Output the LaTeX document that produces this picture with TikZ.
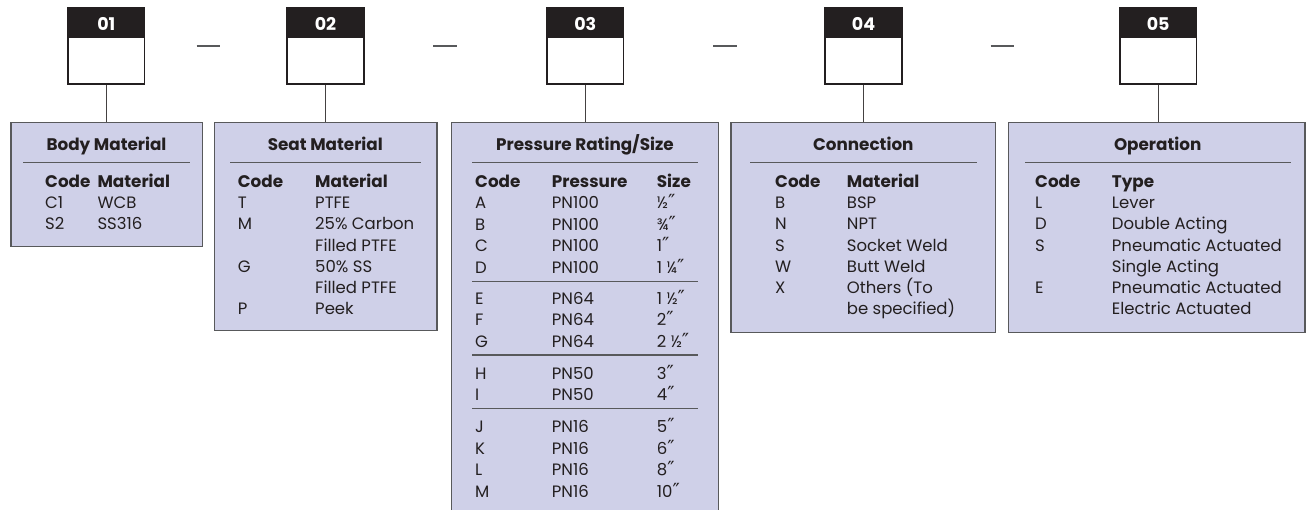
\documentclass[tikz,border=0pt]{standalone}
\usepackage{fontspec}
\setmainfont{Poppins}
\newfontfamily\dvfont{DejaVu Sans}
\newcommand{\dpr}{{\dvfont\fontsize{19.5}{20}\selectfont ″}}
\definecolor{panelfill}{HTML}{CFD0E8}
\definecolor{ink}{HTML}{231F20}
\definecolor{edgegray}{HTML}{58595B}
\tikzset{
 panel/.style={draw=edgegray, line width=1.4pt, fill=panelfill, inner sep=0pt, anchor=north},
 codebox/.style={draw=ink, line width=1.1pt, fill=white, minimum width=76pt, minimum height=75.7pt, inner sep=0pt},
 hdrtxt/.style={text=white, font=\fontsize{17.5}{20}\selectfont\bfseries, inner sep=0pt},
 txt/.style={anchor=base west, inner sep=0pt, text=ink, font=\fontsize{16.5}{19}\selectfont},
 btxt/.style={txt, font=\fontsize{16.8}{19}\selectfont\bfseries},
 ttl/.style={anchor=base, inner sep=0pt, text=ink, font=\fontsize{16.8}{19}\selectfont\bfseries},
 link/.style={draw=ink!85, line width=1pt},
 sep/.style={draw=edgegray, line width=1.3pt},
 dashmark/.style={draw=edgegray, line width=1.2pt},
}
\begin{document}
\begin{tikzpicture}[x=1pt,y=-1pt]
\useasboundingbox (0,0) rectangle (1306,510);
\begin{scope}
\clip (0,0) rectangle (1306,510);
% panels
\node[panel, minimum width=191.3pt, minimum height=124pt] (p1) at (106.65,121.7) {};
\node[panel, minimum width=222.7pt, minimum height=208.3pt] (p2) at (325.65,121.7) {};
\node[panel, minimum width=266.6pt, minimum height=395pt] (p3) at (585,121.7) {};
\node[panel, minimum width=264.7pt, minimum height=210pt] (p4) at (863.35,121.7) {};
\node[panel, minimum width=296.7pt, minimum height=210pt] (p5) at (1156.65,121.7) {};
% code boxes
\foreach \n/\cx in {1/106.3, 2/325.5, 3/585.3, 4/863.5, 5/1158.2} {
  \node[codebox] (c\n) at (\cx,46.15) {};
  \fill[ink] (c\n.north west) rectangle ([yshift=-30.7pt]c\n.north east);
  \draw[ink, line width=1.1pt] (c\n.north west) rectangle (c\n.south east);
  \node[hdrtxt] (h\n) at (\cx,24.2) {0\n};
  \draw[link] (c\n.south) -- (c\n.south |- p\n.north);
}
% dashes between code boxes
\draw[dashmark] (196.7,46) -- (220,46);
\draw[dashmark] (433.3,46) -- (456.7,46);
\draw[dashmark] (713.3,46) -- (736.7,46);
\draw[dashmark] (990.7,46) -- (1014,46);
% titles
\node[ttl] (t1) at (106.5,150.2) {Body Material};
\node[ttl] (t2) at (325.3,150.2) {Seat Material};
\node[ttl] (t3) at (585,150.2) {Pressure Rating/Size};
\node[ttl] (t4) at (863.3,150.2) {Connection};
\node[ttl] (t5) at (1157.7,150.2) {Operation};
\draw[sep] (23.3,162.7) -- (190,162.7);
\draw[sep] (230,162.7) -- (421,162.7);
\draw[sep] (472.3,162.7) -- (698.3,162.7);
\draw[sep] (750,162.7) -- (976.7,162.7);
\draw[sep] (1025,162.7) -- (1291,162.7);
% column headers
\node[btxt] (b1a) at (45,187.6) {Code};
\node[btxt] (b1b) at (97.3,187.6) {Material};
\node[btxt] (b2a) at (237.7,187.6) {Code};
\node[btxt] (b2b) at (315,187.6) {Material};
\node[btxt] (b3a) at (475,187.6) {Code};
\node[btxt] (b3b) at (551.7,187.6) {Pressure};
\node[btxt] (b3c) at (656.7,187.6) {Size};
\node[btxt] (b4a) at (775,187.6) {Code};
\node[btxt] (b4b) at (846.7,187.6) {Material};
\node[btxt] (b5a) at (1035,187.6) {Code};
\node[btxt] (b5b) at (1111.7,187.6) {Type};
% body material
\foreach \a/\b [count=\i] in {C1/WCB, S2/SS316} {
  \node[txt] (r1a\i) at (45,{202.9+21.2*(\i-1)+5.8}) {\a};
  \node[txt] (r1b\i) at (97.3,{202.9+21.2*(\i-1)+5.8}) {\b};
}
% seat material
\foreach \a/\b [count=\i] in {T/PTFE, M/25\% Carbon, /Filled PTFE, G/50\% SS, /Filled PTFE, P/Peek} {
  \node[txt] (r2a\i) at (237.7,{202.9+21.2*(\i-1)+5.8}) {\a};
  \node[txt] (r2b\i) at (315,{202.9+21.2*(\i-1)+5.8}) {\b};
}
% pressure rating / size
\foreach \yy/\a/\b/\c [count=\i] in {202.7/A/PN100/{½\dpr}, 224.6/B/PN100/{¾\dpr}, 246/C/PN100/{1\dpr}, 267.3/D/PN100/{1 ¼\dpr},
  298.3/E/PN64/{1 ½\dpr}, 320/F/PN64/{2\dpr}, 341.7/G/PN64/{2 ½\dpr},
  373.3/H/PN50/{3\dpr}, 395/I/PN50/{4\dpr},
  426.7/J/PN16/{5\dpr}, 448.3/K/PN16/{6\dpr}, 470/L/PN16/{8\dpr}, 491.3/M/PN16/{10\dpr}} {
  \node[txt] (r3a\i) at (475,{\yy+5.8}) {\a};
  \node[txt] (r3b\i) at (551.7,{\yy+5.8}) {\b};
  \node[txt] (r3c\i) at (656.7,{\yy+5.8}) {\c};
}
\draw[sep] (472.3,281.7) -- (698.3,281.7);
\draw[sep] (472.3,355) -- (698.3,355);
\draw[sep] (472.3,408.3) -- (698.3,408.3);
% connection
\foreach \a/\b [count=\i] in {B/BSP, N/NPT, S/Socket Weld, W/Butt Weld, X/Others (To, /be specified)} {
  \node[txt] (r4a\i) at (775,{202.9+21.2*(\i-1)+5.8}) {\a};
  \node[txt] (r4b\i) at (846.7,{202.9+21.2*(\i-1)+5.8}) {\b};
}
% operation
\foreach \a/\b [count=\i] in {L/Lever, D/Double Acting, S/Pneumatic Actuated, /Single Acting, E/Pneumatic Actuated, /Electric Actuated} {
  \node[txt] (r5a\i) at (1035,{202.9+21.2*(\i-1)+5.8}) {\a};
  \node[txt] (r5b\i) at (1111.7,{202.9+21.2*(\i-1)+5.8}) {\b};
}
\end{scope}
\end{tikzpicture}
\end{document}
